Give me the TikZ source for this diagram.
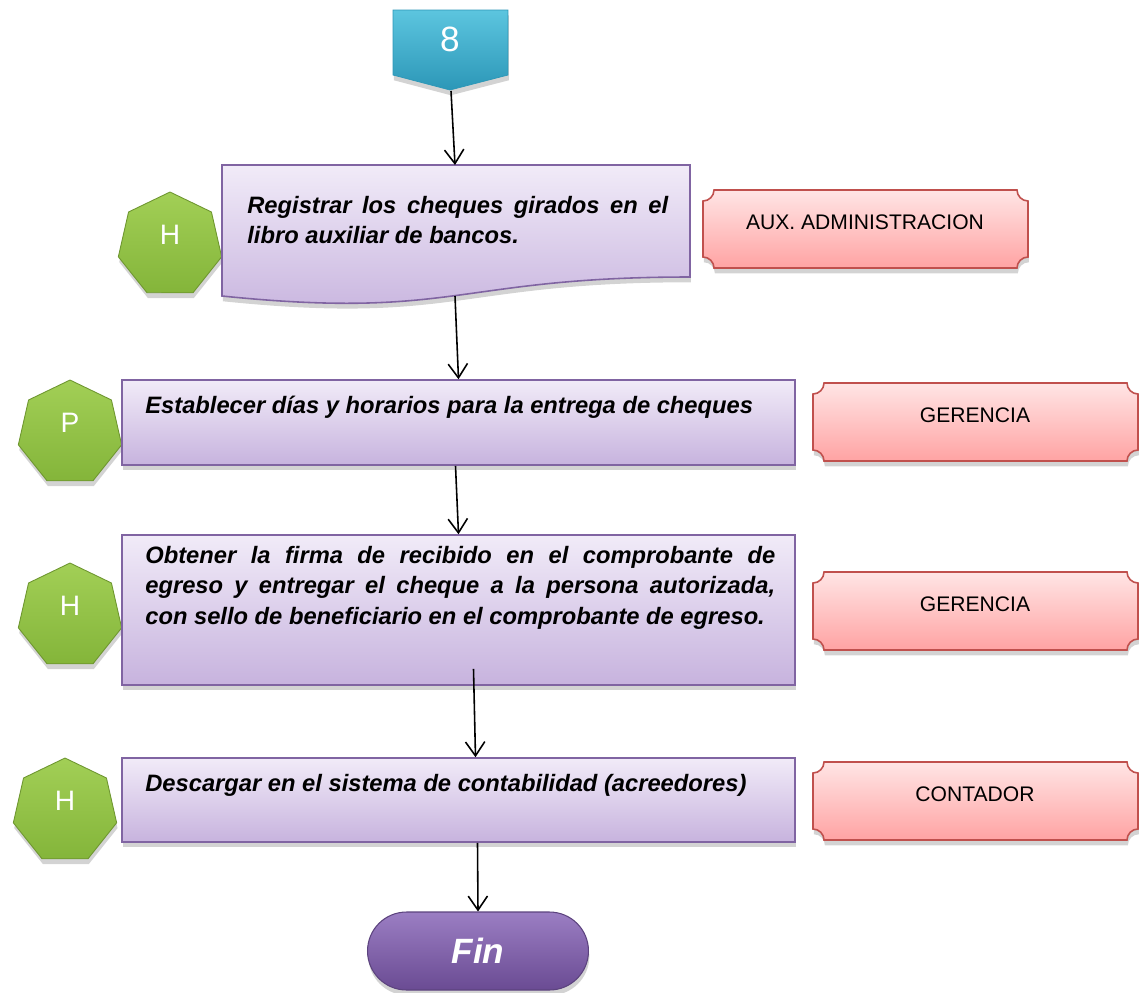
\documentclass[tikz,border=0pt]{standalone}
\usepackage{fontspec}
\setmainfont{Liberation Sans}
\usetikzlibrary{arrows.meta,calc,shapes.geometric,shadows}

\definecolor{stepTop}{HTML}{F1EBF8}
\definecolor{stepBot}{HTML}{C7B3DE}
\definecolor{stepLine}{HTML}{8064A2}
\definecolor{roleTop}{HTML}{FFE5E5}
\definecolor{roleBot}{HTML}{FFA3A3}
\definecolor{roleLine}{HTML}{C0504D}
\definecolor{heptTop}{HTML}{A2CF56}
\definecolor{heptBot}{HTML}{84B53A}
\definecolor{heptLine}{HTML}{6E9630}
\definecolor{conTop}{HTML}{5CC5DF}
\definecolor{conBot}{HTML}{2C97B7}
\definecolor{finTop}{HTML}{9B7EC3}
\definecolor{finBot}{HTML}{6A4B93}
\definecolor{finLine}{HTML}{5C437E}

\tikzset{
    softshadow/.style={drop shadow={shadow xshift=0.5pt, shadow yshift=-3pt, opacity=0.35}},
    flow/.style={-{Straight Barb[length=8pt,width=11pt]}, line width=0.9pt},
    stepbox/.style={draw=stepLine, line width=0.9pt, top color=stepTop, bottom color=stepBot, softshadow},
    steptext/.style={inner sep=0pt, font=\fontsize{13.5}{17.3}\selectfont\bfseries\itshape},
    rolebox/.style={draw=roleLine, line width=0.9pt, top color=roleTop, bottom color=roleBot, softshadow},
    roletext/.style={inner sep=0pt, font=\fontsize{12}{14}\selectfont},
    hept/.style={regular polygon, regular polygon sides=7, minimum size=2.12cm, inner sep=0pt,
        draw=heptLine, line width=0.5pt, top color=heptTop, bottom color=heptBot, softshadow,
        text=white, text depth=0.4cm, font=\fontsize{16}{18}\selectfont},
    conshape/.style={top color=conTop, bottom color=conBot, draw=conBot, line width=0.4pt, softshadow},
    finbox/.style={rectangle, rounded corners=0.78cm, minimum width=4.42cm, minimum height=1.56cm,
        draw=finLine, line width=0.6pt, top color=finTop, bottom color=finBot, softshadow,
        text=white, font=\fontsize{20}{24}\selectfont\bfseries\itshape}
}

\begin{document}
\begin{tikzpicture}[x=0.02cm, y=-0.02cm]
    \useasboundingbox (0,0) rectangle (1147,992);

    % Off-page connector
    \path[conshape] (393,10) -- (508,10) -- (508,75) -- (450,90) -- (393,75) -- cycle;
    \node[text=white, font=\fontsize{20}{22}\selectfont] (con8) at (450,39) {8};
    \coordinate (con8-tip) at (451,91);

    % Activity types
    \node[hept] (h1) at (170,245) {H};
    \node[hept] (p1) at (70,433) {P};
    \node[hept] (h2) at (70,616) {H};
    \node[hept] (h3) at (65,811) {H};

    % Step 1 (document)
    \path[stepbox] (222,165) -- (690,165) -- (690,277) .. controls (456,277) and (456,320) .. (222,296) -- cycle;
    \node[steptext, anchor=north west, text width=8.42cm, align=justify] (reg) at (247,196)
        {Registrar los cheques girados en el\linebreak libro auxiliar de bancos.};
    \coordinate (reg-top) at (455,165);
    \coordinate (reg-bot) at (455,296);

    % Step 2
    \node[stepbox, minimum width=13.46cm, minimum height=1.7cm] (est) at (458.5,422.5) {};
    \node[steptext, anchor=base west] (est-t) at (145,413) {Establecer días y horarios para la entrega de cheques};

    % Step 3
    \node[stepbox, minimum width=13.46cm, minimum height=3cm] (obt) at (458.5,610) {};
    \node[steptext, anchor=north west, text width=12.6cm, align=justify] (obt-t) at (145,546)
        {Obtener la firma de recibido en el comprobante de\linebreak egreso y entregar el cheque a la persona autorizada,\linebreak con sello de beneficiario en el comprobante de egreso.};

    % Step 4
    \node[stepbox, minimum width=13.46cm, minimum height=1.68cm] (des) at (458.5,800) {};
    \node[steptext, anchor=base west] (des-t) at (145,791) {Descargar en el sistema de contabilidad (acreedores)};

    % End
    \node[finbox] (fin) at (478,951) {Fin};

    % Responsibles
    \foreach \n/\xa/\ya/\role in {1/703/190/AUX. ADMINISTRACION, 2/813/383/GERENCIA, 3/813/572/GERENCIA, 4/813/762/CONTADOR} {
        \path[rolebox] (\xa+11,\ya) -- (\xa+314,\ya)
            .. controls (\xa+314,\ya+6) and (\xa+319,\ya+11) .. (\xa+325,\ya+11) -- (\xa+325,\ya+67)
            .. controls (\xa+319,\ya+67) and (\xa+314,\ya+72) .. (\xa+314,\ya+78) -- (\xa+11,\ya+78)
            .. controls (\xa+11,\ya+72) and (\xa+6,\ya+67) .. (\xa,\ya+67) -- (\xa,\ya+11)
            .. controls (\xa+6,\ya+11) and (\xa+11,\ya+6) .. (\xa+11,\ya) -- cycle;
        \node[roletext] (role\n) at (\xa+162,\ya+32) {\role};
    }

    % Flow
    \draw[flow] (con8-tip) -- (reg-top);
    \draw[flow] (reg-bot) -- (est.north);
    \draw[flow] ($(est.south)+(-3,0)$) -- (obt.north);
    \draw[flow] ($(obt.south)+(15,-17)$) -- ($(des.north)+(17,0)$);
    \draw[flow] ($(des.south)+(19,0)$) -- (fin.north);
\end{tikzpicture}
\end{document}
